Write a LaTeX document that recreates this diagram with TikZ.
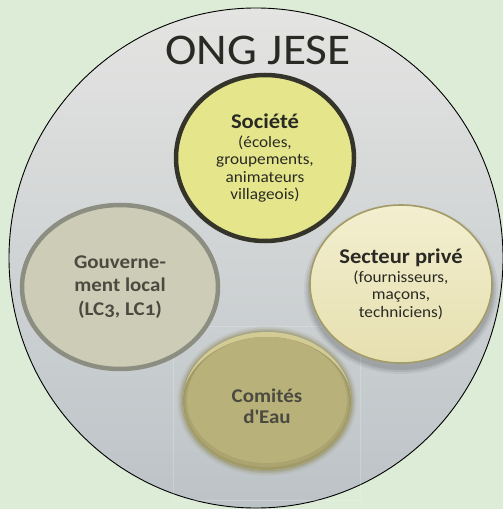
\documentclass[tikz,border=0pt]{standalone}
\usepackage{fontspec}
\setmainfont{Carlito}[Numbers=OldStyle, FakeStretch=1.08]
\usetikzlibrary{shapes.geometric}
\definecolor{bggreen}{HTML}{DDECD6}
\definecolor{ringtop}{HTML}{E4E4E2}
\definecolor{ringbot}{HTML}{BCC3C7}
\definecolor{socfill}{HTML}{E5E68C}
\definecolor{socline}{HTML}{34342A}
\definecolor{govfill}{HTML}{CDCCB6}
\definecolor{govline}{HTML}{8C8E82}
\definecolor{secfill}{HTML}{F3EFCF}
\definecolor{secfillb}{HTML}{E6DFB0}
\definecolor{secline}{HTML}{A39C66}
\definecolor{comfill}{HTML}{B9B17A}
\definecolor{comdark}{HTML}{8F8A5C}
\definecolor{comhigh}{HTML}{D2CB94}
\definecolor{txtdark}{HTML}{2A2A24}
\definecolor{txtgray}{HTML}{4A4A40}
\tikzset{
  blob/.style={ellipse, inner sep=0pt, align=center,
    font=\fontsize{16}{17.4}\selectfont, text=txtdark},
  boldblob/.style={font=\bfseries\fontsize{19.5}{23.5}\selectfont, text=txtgray}
}
\newcommand{\headtext}[1]{{\bfseries\fontsize{21}{21}\selectfont #1}\\[2bp]}
\begin{document}
\begin{tikzpicture}[x=1bp,y=-1bp]
\useasboundingbox (0,0) rectangle (503,509);
\fill[bggreen] (0,0) rectangle (503,509);

% outer organisation circle
\shade[top color=ringtop, bottom color=ringbot]
  (256,258) ellipse [x radius=247bp, y radius=250bp];
\node[ellipse, draw=black, line width=0.9bp, minimum width=494bp,
  minimum height=500bp, inner sep=0pt] (ong) at (256,258) {};
\node[anchor=base, text=txtdark, font=\fontsize{44}{44}\selectfont]
  (title) at (258,65) {ONG JESE};

% faint frame around the water committees picture
\draw[white, opacity=0.2, line width=0.8bp] (173,326) rectangle (360,500);

% local government
\node[blob, boldblob, fill=govfill, draw=govline, line width=4.5bp,
  minimum width=196bp, minimum height=164bp]
  (gov) at (120,287) {Gouverne-\\ment local\\(LC3, LC1)};

% society
\node[blob, fill=socfill, draw=socline, line width=4.5bp,
  minimum width=178bp, minimum height=166bp]
  (soc) at (265,158) {\headtext{Société}(écoles,\\groupements,\\animateurs\\villageois)};

% private sector, with a soft drop shadow
\foreach \g/\o in {6/0.05, 4/0.07, 2/0.09}{
  \fill[black, opacity=\o]
    (401,289) ellipse [x radius=91bp+\g bp, y radius=79bp+\g bp];
}
\shade[top color=secfill, bottom color=secfillb]
  (401,284) ellipse [x radius=91bp, y radius=79bp];
\node[blob, draw=secline, line width=1.6bp,
  minimum width=182bp, minimum height=158bp]
  (sec) at (401,284) {\headtext{Secteur privé}(fournisseurs,\\maçons,\\techniciens)};

% water committees: soft-edged disc, light rim on top, darker rim below
\foreach \g/\o in {6/0.08, 4.5/0.14, 3/0.22, 1.5/0.34}{
  \fill[comdark, opacity=\o]
    (267,401) ellipse [x radius=84bp+\g bp, y radius=69bp+\g bp];
}
\begin{scope}
  \clip (267,401) ellipse [x radius=84bp, y radius=69bp];
  \fill[comhigh] (267,401) ellipse [x radius=86bp, y radius=71bp];
  \fill[comdark!60!comfill] (267,404) ellipse [x radius=85bp, y radius=67bp];
  \fill[comfill!75!comdark, opacity=0.8] (267,402) ellipse [x radius=82bp, y radius=65bp];
  \fill[comfill] (267,400) ellipse [x radius=80bp, y radius=63bp];
\end{scope}
\node[blob, boldblob, minimum width=168bp, minimum height=138bp,
  font=\bfseries\fontsize{19.5}{21.5}\selectfont]
  (com) at (267,406) {Comités\\d\textquotesingle Eau};
\end{tikzpicture}
\end{document}
